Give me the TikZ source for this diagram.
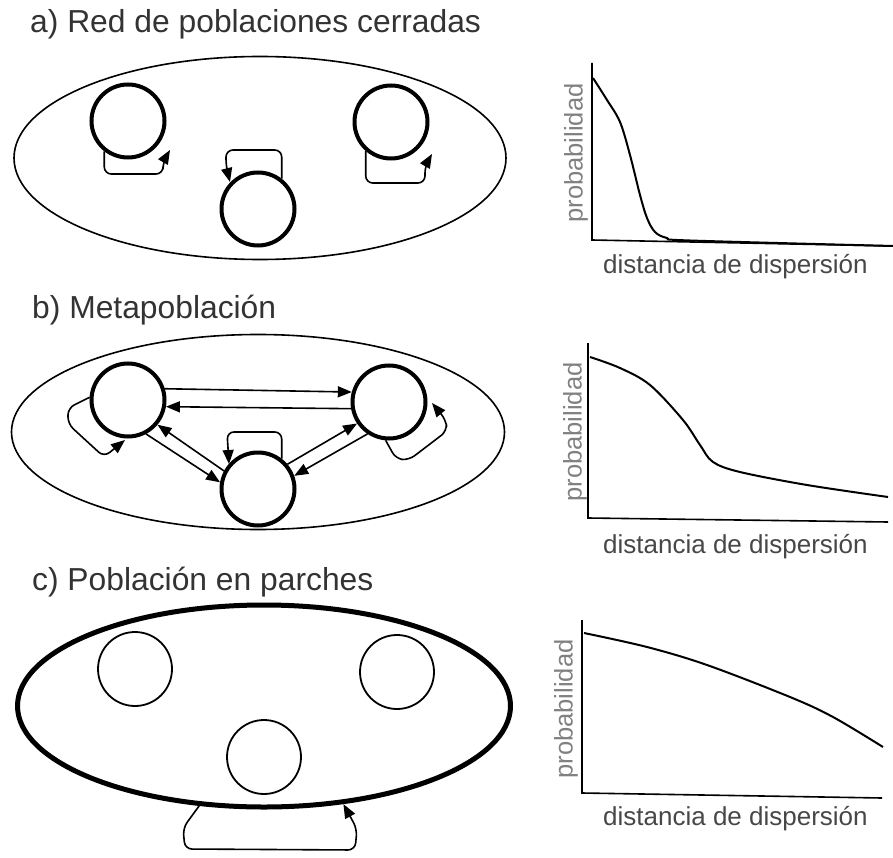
\documentclass[tikz,border=0pt]{standalone}
\usepackage{fontspec}
\setmainfont{Liberation Sans}
\usetikzlibrary{arrows.meta,shapes.geometric}
\begin{document}
\begin{tikzpicture}[x=1pt,y=-1pt,
  pop/.style={draw, circle, line width=4pt, minimum size=73pt, inner sep=0pt},
  patch/.style={draw, circle, line width=1.8pt, minimum size=74pt, inner sep=0pt},
  habitat/.style={draw, ellipse, line width=1.6pt, inner sep=0pt},
  conn/.style={line width=1.6pt, -{Triangle[length=14pt,width=11pt]}},
  selfloop/.style={conn, rounded corners=7pt},
  titlelbl/.style={font=\fontsize{31.8}{36}\selectfont, text=black!80, inner sep=0pt, anchor=base west},
  xlbl/.style={font=\fontsize{26}{30}\selectfont, text=black!72, inner sep=0pt, anchor=base west},
  ylbl/.style={font=\fontsize{25.5}{30}\selectfont, text=black!50, inner sep=0pt, rotate=90},
  axisline/.style={line width=1.6pt},
  curveline/.style={line width=2pt, line join=round}
]
\useasboundingbox (0,0) rectangle (893,858);

% ---------- a) ----------
\node[titlelbl] (ta) at (30,33) {a) Red de poblaciones cerradas};
\node[habitat, minimum width=492pt, minimum height=203pt] (Ea) at (260,158) {};
\node[pop] (a1) at (128,121) {};
\node[pop] (a2) at (391,122) {};
\node[pop] (a3) at (258,209) {};
\coordinate (a1t) at (170,150);
\coordinate (a2t) at (432,154);
\coordinate (a3t) at (230,182);
\draw[selfloop] (a1.232) |- (163,174) -- (163,162) -- (a1t);
\draw[selfloop] (a2.229) |- (425,183) -- (425,166) -- (a2t);
\draw[selfloop] (a3.52) |- (226,150) -- (226,166) -- (a3t);

% graph a
\draw[axisline] (592,63) -- (592,240) -- (893,246);
\draw[curveline] plot[smooth,tension=0.55] coordinates {(593,78) (607,100) (620,122) (630,155) (640,195) (647,218) (655,232) (667,238) (690,240.5) (893,246)};
\node[ylbl] (ya) at (576,153) {probabilidad};
\node[xlbl] (xa) at (603,273) {distancia de dispersión};

% ---------- b) ----------
\node[titlelbl] (tb) at (32,318) {b) Metapoblación};
\node[habitat, minimum width=493pt, minimum height=195pt] (Eb) at (258,432) {};
\node[pop] (bL) at (128,400) {};
\node[pop] (bR) at (389,402) {};
\node[pop] (bB) at (258,489) {};
\draw[conn] (bL.17) -- (bR.165);
\draw[conn] (bR.190) -- (bL.-10);
\draw[conn] (bL.-62) -- (bB.170);
\draw[conn] (bB.152) -- (bL.-40);
\draw[conn] (bB.40) -- (bR.214);
\draw[conn] (bR.236) -- (bB.20);
\coordinate (bLt) at (125,440);
\coordinate (bRt) at (432,403);
\coordinate (bBt) at (229,464);
\draw[selfloop] (bL.176) -- (68,408) -- (68,424) -- (104,457) -- (bLt);
\draw[selfloop] (bR.-95) -- (396,459) -- (409,460) -- (447,431) -- (446,420) -- (bRt);
\draw[selfloop] (bB.52) |- (227,432) -- (bBt);

% graph b
\draw[axisline] (588,343) -- (588,518) -- (888,522);
\draw[curveline] plot[smooth,tension=0.55] coordinates {(590,357) (620,368) (650,385) (683,420) (700,445) (713,462) (740,472) (807,485) (888,497)};
\node[ylbl] (yb) at (575,432) {probabilidad};
\node[xlbl] (xb) at (603,553) {distancia de dispersión};

% ---------- c) ----------
\node[titlelbl] (tc) at (32,590) {c) Población en parches};
\node[habitat, line width=5pt, minimum width=493pt, minimum height=202pt] (Ec) at (264,706) {};
\node[patch] (c1) at (135,669) {};
\node[patch] (c2) at (397,672) {};
\node[patch] (c3) at (264,757) {};
\draw[selfloop] (Ec.237) -- (183,828) -- (185,849) -- (355,850) -- (357,829) -- (Ec.-51);

% graph c
\draw[axisline] (582,620) -- (582,793) -- (882,798);
\draw[curveline] plot[smooth,tension=0.55] coordinates {(584,633) (647,647) (707,665) (790,697) (833,717) (883,747)};
\node[ylbl] (yc) at (566,709) {probabilidad};
\node[xlbl] (xc) at (603,825) {distancia de dispersión};
\end{tikzpicture}
\end{document}
